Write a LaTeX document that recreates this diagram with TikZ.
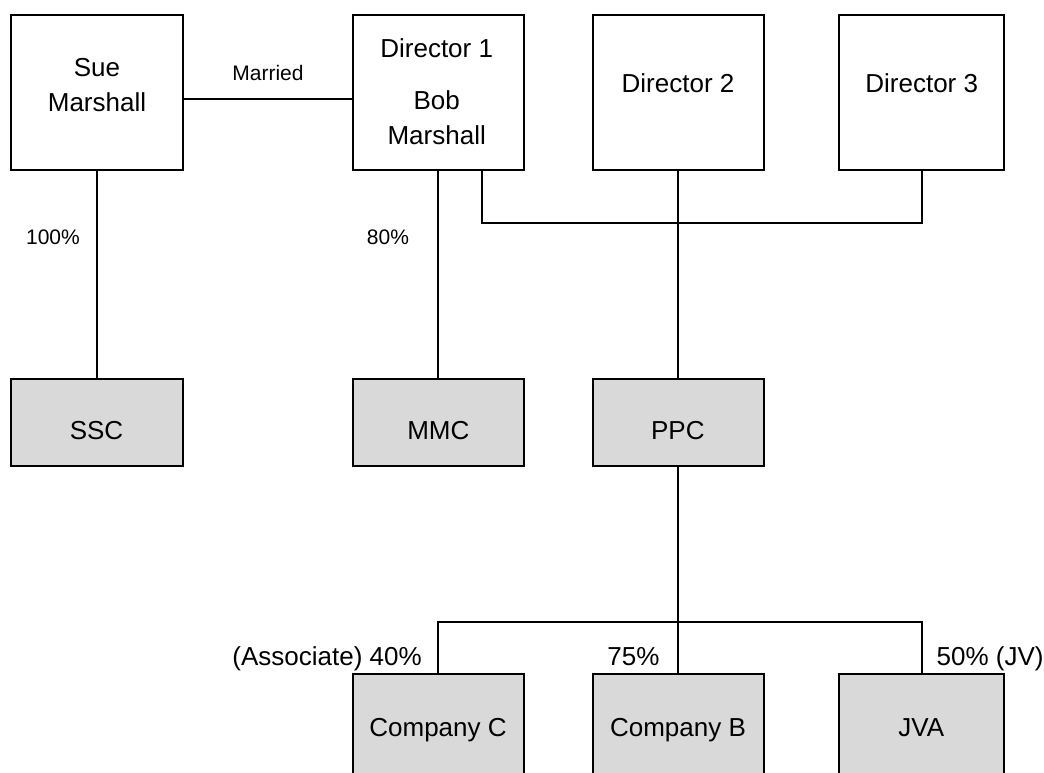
\documentclass[tikz,border=0pt]{standalone}
\usepackage{fontspec}
\setmainfont{Liberation Sans}
\usetikzlibrary{calc}
\definecolor{CoFill}{HTML}{D9D9D9}

\begin{document}
\begin{tikzpicture}[x=.75pt,y=-.75pt,line width=1.5pt,
  person/.style={draw,minimum width=128.5pt,minimum height=116.25pt},
  company/.style={draw,fill=CoFill,minimum width=128.5pt,minimum height=65pt},
  twoline/.style={font=\fontsize{19.5}{26.25}\selectfont,inner sep=0pt,align=center},
  boxtxt/.style={font=\fontsize{19.5}{23}\selectfont,inner sep=0pt,text height=14pt,text depth=0pt},
  pcttxt/.style={font=\fontsize{15.75}{19}\selectfont,inner sep=0pt,text height=11.3pt,text depth=0pt}]
\clip (0,0) rectangle (1044,772);

% owners
\node[person] (sue) at (97,92.5) {};
\node[person] (d1) at (438.3,92.5) {};
\node[person] (d2) at (678.3,92.5) {};
\node[person,minimum width=123.75pt] (d3) at (921.5,92.5) {};

% companies
\node[company] (ssc) at (97,422.3) {};
\node[company] (mmc) at (438.3,422.3) {};
\node[company] (ppc) at (678.3,422.3) {};
\node[company,minimum height=87pt] (coc) at (438.3,732) {};
\node[company,minimum height=87pt] (cob) at (678.3,732) {};
\node[company,minimum height=87pt,minimum width=123.75pt] (jva) at (921.5,732) {};

% box texts
\node[twoline] (suetxt) at (97,85.5) {Sue\\Marshall};
\node[twoline] (d1txt) at (436.7,91.5) {Director 1\\[12.75pt]Bob\\Marshall};
\node[boxtxt] (d2txt) at (678,83) {Director 2};
\node[boxtxt] (d3txt) at (921.7,83.3) {Director 3};
\node[boxtxt] (ssctxt) at (96.5,430) {SSC};
\node[boxtxt] (mmctxt) at (438.3,430) {MMC};
\node[boxtxt] (ppctxt) at (677.8,430) {PPC};
\node[boxtxt] (coctxt) at (438,726.7) {Company C};
\node[boxtxt] (cobtxt) at (678,726.7) {Company B};
\node[boxtxt] (jvatxt) at (921.2,726.7) {JVA};

% links
\draw ([yshift=-4.9pt]sue.east) -- ([yshift=-4.9pt]d1.west);
\draw (sue.south) -- (ssc.north);
\draw (d1.south) -- (mmc.north);
\coordinate (dirbar) at (678.3,222.7);
\draw ([xshift=32.8pt]d1.south) |- (dirbar) -| (d3.south);
\draw (d2.south) -- (ppc.north);
\coordinate (cobar) at (678.3,621.7);
\draw (ppc.south) -- (cob.north);
\draw (coc.north) |- (cobar) -| (jva.north);

% holdings
\node[pcttxt] (married) at (268,73) {Married};
\node[pcttxt] (p100) at (53,237) {100\%};
\node[pcttxt] (p80) at (388,237) {80\%};
\node[boxtxt,anchor=east] (p40) at (422.7,656) {(Associate) 40\%};
\node[boxtxt] (p75) at (633.5,656) {75\%};
\node[boxtxt,anchor=west] (p50) at (935.7,656) {50\% (JV)};

\end{tikzpicture}
\end{document}
